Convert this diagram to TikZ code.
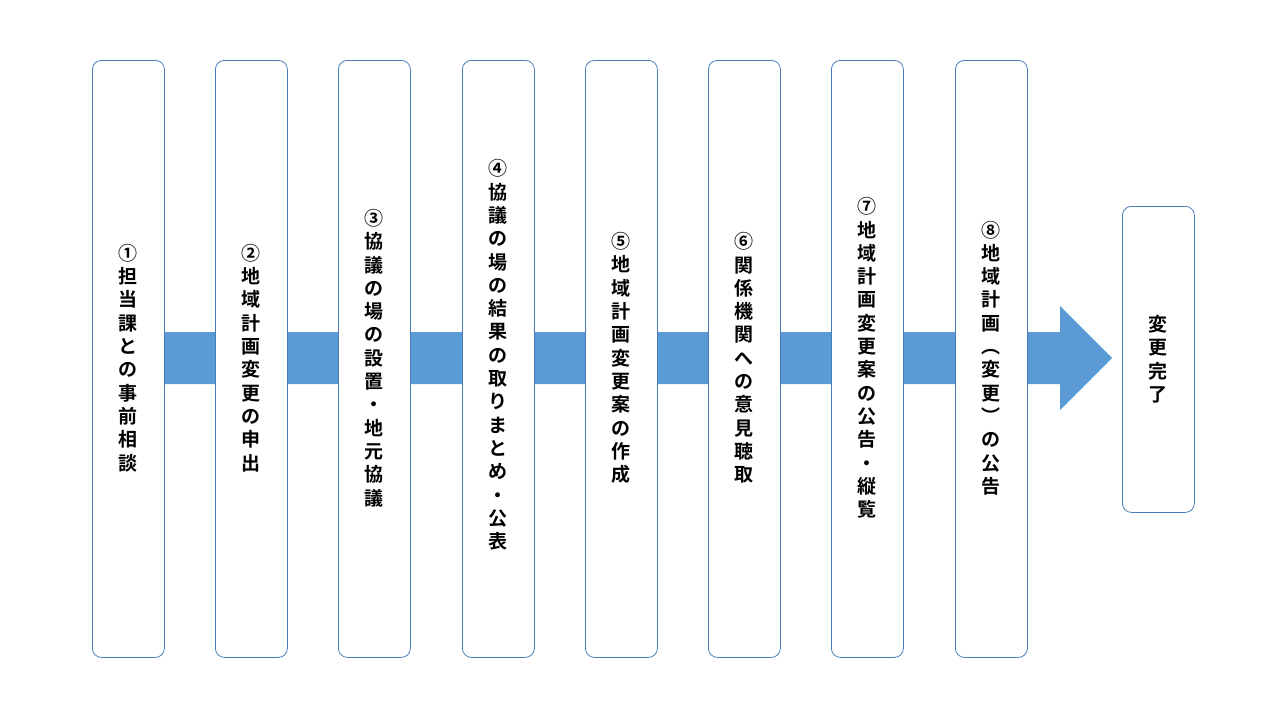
\documentclass[tikz,border=0pt]{standalone}
\usepackage{fontspec}
\newfontfamily\jp{Noto Sans CJK JP}[BoldFont={* Bold}]
\definecolor{bx}{HTML}{4A7EBB}
\definecolor{ar}{HTML}{5B9BD5}
\tikzset{x=1pt,y=-1pt,
 stepbox/.style={draw=bx,line width=0.8pt,fill=white,rounded corners=9pt,minimum width=72pt,anchor=north west},
 vtxt/.style={align=center,font=\jp\bfseries\fontsize{19}{23.3}\selectfont,inner sep=0pt}}
\begin{document}
\begin{tikzpicture}
\useasboundingbox (0,0) rectangle (1280,720);
\fill[ar] (164,332) -- (1060,332) -- (1060,306) -- (1112,358) -- (1060,410) -- (1060,384) -- (164,384) -- cycle;
\foreach \x/\n in {92/1,215/2,338/3,462/4,585/5,708/6,831/7,955/8}
  \node[stepbox,minimum height=597pt] (b\n) at (\x,60) {};
\node[stepbox,minimum height=306pt] (b9) at (1122,206) {};
\node[vtxt] (t1) at (b1.center|-0,358) {①\\担\\当\\課\\と\\の\\事\\前\\相\\談};
\node[vtxt] (t2) at (b2.center|-0,358) {②\\地\\域\\計\\画\\変\\更\\の\\申\\出};
\node[vtxt] (t3) at (b3.center|-0,358) {③\\協\\議\\の\\場\\の\\設\\置\\・\\地\\元\\協\\議};
\node[vtxt] (t4) at (b4.center|-0,355) {④\\協\\議\\の\\場\\の\\結\\果\\の\\取\\り\\ま\\と\\め\\・\\公\\表};
\node[vtxt] (t5) at (b5.center|-0,358) {⑤\\地\\域\\計\\画\\変\\更\\案\\の\\作\\成};
\node[vtxt] (t6) at (b6.center|-0,358) {⑥\\関\\係\\機\\関\\へ\\の\\意\\見\\聴\\取};
\node[vtxt] (t7) at (b7.center|-0,358) {⑦\\地\\域\\計\\画\\変\\更\\案\\の\\公\\告\\・\\縦\\覧};
\node[vtxt] (t8) at (b8.center|-0,358) {⑧\\地\\域\\計\\画\\︵\\変\\更\\︶\\の\\公\\告};
\node[vtxt] (t9) at (b9.center) {変\\更\\完\\了};
\end{tikzpicture}
\end{document}
